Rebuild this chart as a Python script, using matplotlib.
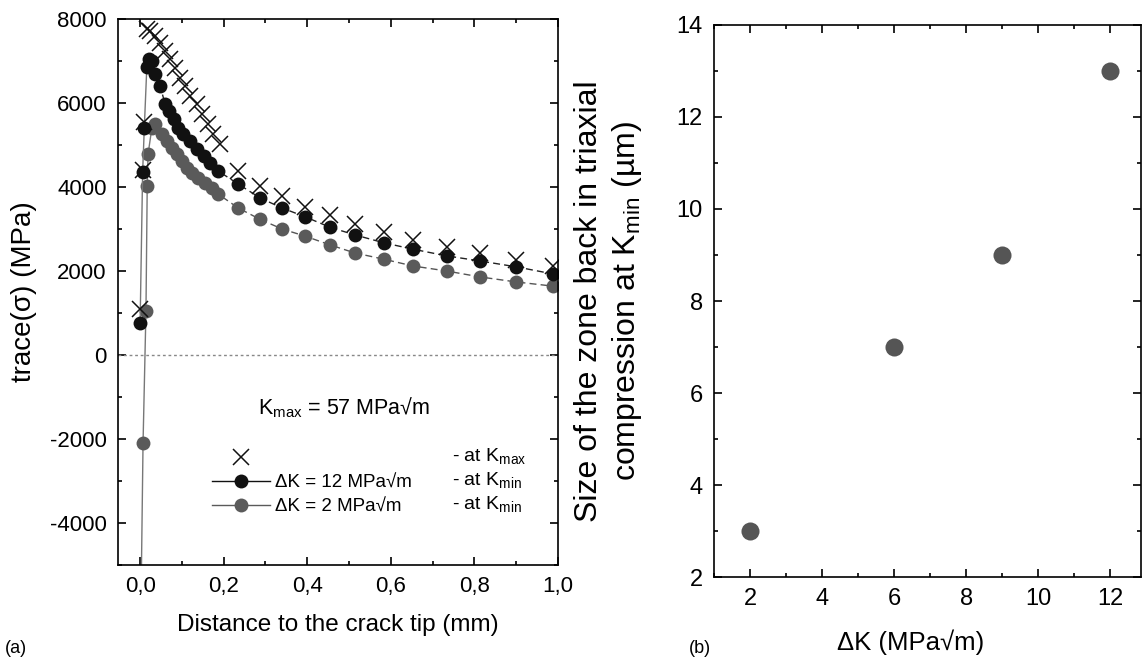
import matplotlib
matplotlib.use("Agg")
import matplotlib.pyplot as plt
from matplotlib.ticker import MultipleLocator, FuncFormatter
from matplotlib.lines import Line2D

plt.rcParams['font.family'] = ['Liberation Sans', 'DejaVu Sans']
plt.rcParams['mathtext.fontset'] = 'custom'
plt.rcParams['mathtext.rm'] = 'Liberation Sans'
plt.rcParams['axes.unicode_minus'] = False

# (a) trace of stress ahead of the crack tip
x_kmax = [0.0, 0.006, 0.01, 0.016, 0.024, 0.036, 0.048, 0.06, 0.072, 0.084, 0.096,
          0.108, 0.12, 0.136, 0.148, 0.163, 0.175, 0.19,
          0.235, 0.287, 0.34, 0.395, 0.455, 0.514, 0.584, 0.653, 0.734, 0.813, 0.9, 0.988]
y_kmax = [1100, 4400, 5550, 7760, 7710, 7600, 7430, 7240, 7050, 6830, 6600,
          6400, 6170, 5970, 5740, 5500, 5260, 5020,
          4380, 4020, 3790, 3520, 3330, 3130, 2930, 2750, 2580, 2420, 2270, 2110]

x_dk12 = [0.0, 0.006, 0.01, 0.016, 0.022, 0.028, 0.036, 0.048, 0.06, 0.068, 0.08,
          0.091, 0.103, 0.12, 0.136, 0.152, 0.167, 0.187,
          0.235, 0.287, 0.34, 0.395, 0.455, 0.514, 0.584, 0.653, 0.734, 0.813, 0.9, 0.988]
y_dk12 = [760, 4350, 5400, 6850, 7050, 7000, 6700, 6400, 5970, 5800, 5620,
          5410, 5260, 5100, 4900, 4740, 4570, 4380,
          4070, 3740, 3500, 3290, 3040, 2860, 2670, 2520, 2360, 2240, 2100, 1930]

x_dk2 = [0.002, 0.007, 0.014, 0.017, 0.019, 0.028, 0.036, 0.052, 0.064, 0.076, 0.088,
         0.1, 0.112, 0.124, 0.139, 0.155, 0.171, 0.187,
         0.235, 0.287, 0.34, 0.395, 0.455, 0.514, 0.584, 0.653, 0.734, 0.813, 0.9, 0.988]
y_dk2 = [-6000, -2100, 1050, 4020, 4780, 5400, 5500, 5260, 5100, 4930, 4780,
         4620, 4450, 4330, 4210, 4100, 3980, 3830,
         3500, 3230, 3000, 2830, 2620, 2430, 2280, 2120, 2000, 1860, 1740, 1640]

# (b) size of the compressed zone
dk = [2, 6, 9, 12]
zone_size = [3, 7, 9, 13]

black = '#111111'
grey = '#5a5a5a'
n_near = 7  # points up to the peak are joined by a solid line

fig = plt.figure(figsize=(11.42, 6.63), dpi=100)
ax1 = fig.add_axes([0.1033, 0.1478, 0.3853, 0.8235])
ax2 = fig.add_axes([0.6252, 0.1297, 0.3739, 0.8326])

ax1.axhline(0, color='#888888', lw=1, ls=(0, (2, 2)))

ax1.plot(x_dk2[:n_near], y_dk2[:n_near], '-', color='#777777', lw=1)
ax1.plot(x_dk2[n_near - 1:], y_dk2[n_near - 1:], '--', color='#555555', lw=1, dashes=(5, 3))
ax1.plot(x_dk2, y_dk2, 'o', color=grey, ms=10, mec='none')

ax1.plot(x_dk12[:n_near], y_dk12[:n_near], '-', color='#777777', lw=1)
ax1.plot(x_dk12[n_near - 1:], y_dk12[n_near - 1:], '--', color='#222222', lw=1, dashes=(5, 3))
ax1.plot(x_dk12, y_dk12, 'o', color=black, ms=10, mec='none')

ax1.plot(x_kmax, y_kmax, 'x', color=black, ms=11, mew=1.1)

ax1.set_xlim(-0.053, 1.0)
ax1.set_ylim(-5000, 8000)
ax1.xaxis.set_major_locator(MultipleLocator(0.2))
ax1.xaxis.set_minor_locator(MultipleLocator(0.1))
ax1.yaxis.set_major_locator(MultipleLocator(2000))
ax1.yaxis.set_minor_locator(MultipleLocator(1000))
ax1.xaxis.set_major_formatter(FuncFormatter(lambda v, p: f"{v:.1f}".replace('.', ',')))
ax1.set_xlabel("Distance to the crack tip (mm)", fontsize=17.5, labelpad=12)
ax1.set_ylabel("trace(σ) (MPa)", fontsize=20)
ax1.yaxis.set_label_coords(-0.185, 0.5)

ax1.text(0.488, -1250, "K$_{\\mathregular{max}}$ = 57 MPa√m", fontsize=15.5, ha='center', va='center')

handles = [Line2D([], [], ls='none', marker='x', color=black, ms=11, mew=1.1),
           Line2D([], [], ls='-', lw=1, marker='o', color=black, ms=10, mec='none'),
           Line2D([], [], ls='-', lw=1, marker='o', color=grey, ms=10, mec='none')]
labels = ["", "ΔK = 12 MPa√m", "ΔK = 2 MPa√m"]
ax1.legend(handles, labels, loc='upper left', bbox_to_anchor=(0.213, 0.21), frameon=False,
           fontsize=13.5, handlelength=3.1, handletextpad=0.3, labelspacing=0.36,
           borderpad=0, borderaxespad=0)
ax1.text(0.76, 0.198, "- at K$_{\\mathregular{max}}$", transform=ax1.transAxes, fontsize=14, va='center')
ax1.text(0.76, 0.154, "- at K$_{\\mathregular{min}}$", transform=ax1.transAxes, fontsize=14, va='center')
ax1.text(0.76, 0.110, "- at K$_{\\mathregular{min}}$", transform=ax1.transAxes, fontsize=14, va='center')

ax2.plot(dk, zone_size, 'o', color='#555555', ms=13, mec='none')
ax2.set_xlim(1, 12.85)
ax2.set_ylim(2, 14)
ax2.xaxis.set_major_locator(MultipleLocator(2))
ax2.xaxis.set_minor_locator(MultipleLocator(1))
ax2.yaxis.set_major_locator(MultipleLocator(2))
ax2.yaxis.set_minor_locator(MultipleLocator(1))
ax2.set_xlabel("ΔK (MPa√m)", fontsize=18.5)
ax2.xaxis.set_label_coords(0.46, -0.095)
ax2.set_ylabel("Size of the zone back in triaxial\ncompression at K$_{\\mathregular{min}}$ (µm)",
               fontsize=23, linespacing=1.22)
ax2.yaxis.set_label_coords(-0.165, 0.5)

for ax in (ax1, ax2):
    ax.tick_params(which='both', direction='in', top=True, right=True, width=1.2)
    ax.tick_params(which='major', length=6, labelsize=16, pad=8)
    ax.tick_params(which='minor', length=3)
    for s in ax.spines.values():
        s.set_linewidth(1.2)
ax2.tick_params(which='major', labelsize=17)

fig.text(0.004, 0.015, "(a)", fontsize=13)
fig.text(0.603, 0.015, "(b)", fontsize=13)

fig.savefig("out.png", dpi=100)
